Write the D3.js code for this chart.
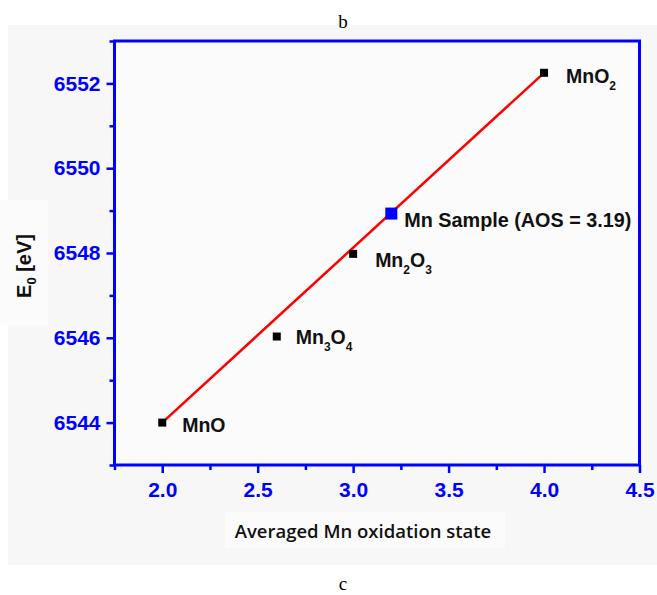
<!DOCTYPE html>
<html>
<head>
<meta charset="utf-8">
<script src="https://cdn.jsdelivr.net/npm/d3@7"></script>
<style>
  body { margin: 0; background: #ffffff; }
  text { font-family: "Liberation Sans", Arial, sans-serif; }
</style>
</head>
<body>
<script>
'use strict';

// reference compounds: averaged oxidation state vs edge energy
const compounds = ["MnO", "Mn3O4", "Mn2O3", "MnO2"];
const oxidationStates = [2.0, 2.6, 3.0, 4.0];
const edgeEnergies = [6544.0, 6546.03, 6547.98, 6552.25];

// the unknown sample
const sampleAOS = [3.2];
const sampleE0 = [6548.93];
const sampleLabel = "Mn Sample (AOS = 3.19)";

// linear fit through the references
const fitX = [2.0, 4.0];
const fitY = [6544.0, 6552.25];

const xTicks = [2.0, 2.5, 3.0, 3.5, 4.0, 4.5];
const xMinorTicks = [1.75, 2.25, 2.75, 3.25, 3.75, 4.25];
const yTicks = [6544, 6546, 6548, 6550, 6552];
const yMinorTicks = [6543, 6545, 6547, 6549, 6551, 6553];

// label offsets from each point (px)
const labelOffsets = [[20, 9], [19, 7], [22, 13], [22, 10]];

const width = 657, height = 595;
const blue = "#0000ff";

const svg = d3.select("body").append("svg")
  .attr("width", width)
  .attr("height", height);

// light grey backdrop of the scanned figure
svg.append("rect")
  .attr("x", 8).attr("y", 25)
  .attr("width", width - 8).attr("height", 540)
  .attr("fill", "#f7f7f7");

// faint boxes behind axis titles
svg.append("rect").attr("x", 0).attr("y", 200).attr("width", 48).attr("height", 125).attr("fill", "#fbfbfb");
svg.append("rect").attr("x", 225).attr("y", 512).attr("width", 280).attr("height", 36).attr("fill", "#fbfbfb");

const x = d3.scaleLinear().domain([1.75, 4.5]).range([114.5, 639.5]);
const y = d3.scaleLinear().domain([6543, 6553]).range([465, 41]);

// plot area
svg.append("rect")
  .attr("x", x(1.75)).attr("y", y(6553))
  .attr("width", x(4.5) - x(1.75)).attr("height", y(6543) - y(6553))
  .attr("fill", "#fbfbfb");

function styleAxis(g, size) {
  g.select(".domain").remove();
  g.selectAll("line").attr("stroke", blue).attr("stroke-width", 2.5);
  g.selectAll("text")
    .attr("fill", blue)
    .style("font-size", size)
    .style("font-weight", "bold");
}

svg.append("g")
  .attr("transform", `translate(0,${y(6543)})`)
  .call(d3.axisBottom(x).tickValues(xMinorTicks).tickSize(5).tickFormat(""))
  .call(g => styleAxis(g, "21px"));

svg.append("g")
  .attr("transform", `translate(0,${y(6543)})`)
  .call(d3.axisBottom(x).tickValues(xTicks).tickSize(8).tickPadding(9).tickFormat(d3.format(".1f")))
  .call(g => styleAxis(g, "21px"));

svg.append("g")
  .attr("transform", `translate(${x(1.75)},0)`)
  .call(d3.axisLeft(y).tickValues(yMinorTicks).tickSize(5).tickFormat(""))
  .call(g => styleAxis(g, "21px"));

svg.append("g")
  .attr("transform", `translate(${x(1.75)},0)`)
  .call(d3.axisLeft(y).tickValues(yTicks).tickSize(8).tickPadding(6).tickFormat(d3.format("d")))
  .call(g => styleAxis(g, "21px"));

// frame
svg.append("rect")
  .attr("x", x(1.75)).attr("y", y(6553))
  .attr("width", x(4.5) - x(1.75)).attr("height", y(6543) - y(6553))
  .attr("fill", "none")
  .attr("stroke", blue)
  .attr("stroke-width", 3);

// fit line
svg.append("path")
  .datum(fitX.map((d, i) => [d, fitY[i]]))
  .attr("fill", "none")
  .attr("stroke", "#ff0000")
  .attr("stroke-width", 2.5)
  .attr("d", d3.line().x(d => x(d[0])).y(d => y(d[1])));

// reference points
svg.selectAll(".ref")
  .data(oxidationStates)
  .enter()
  .append("rect")
  .attr("class", "ref")
  .attr("x", d => x(d) - 4)
  .attr("y", (d, i) => y(edgeEnergies[i]) - 4)
  .attr("width", 8)
  .attr("height", 8)
  .attr("fill", "#000000");

// sample point
svg.selectAll(".sample")
  .data(sampleAOS)
  .enter()
  .append("rect")
  .attr("class", "sample")
  .attr("x", d => x(d) - 6)
  .attr("y", (d, i) => y(sampleE0[i]) - 6)
  .attr("width", 12)
  .attr("height", 12)
  .attr("fill", blue);

// compound labels with subscripted digits
compounds.forEach(function(name, i) {
  let t = svg.append("text")
    .attr("x", x(oxidationStates[i]) + labelOffsets[i][0])
    .attr("y", y(edgeEnergies[i]) + labelOffsets[i][1])
    .style("font-size", "19.5px")
    .style("font-weight", "bold")
    .attr("fill", "#111");
  let lowered = false;
  name.match(/[A-Za-z]+|\d+/g).forEach(function(part) {
    if (/\d/.test(part)) {
      t.append("tspan").attr("dy", 7).style("font-size", "12px").text(part);
      lowered = true;
    } else {
      t.append("tspan").attr("dy", lowered ? -7 : 0).text(part);
      lowered = false;
    }
  });
});

svg.append("text")
  .attr("x", x(sampleAOS[0]) + 13)
  .attr("y", y(sampleE0[0]) + 13)
  .style("font-size", "19.8px")
  .style("font-weight", "bold")
  .attr("fill", "#111")
  .text(sampleLabel);

// axis titles
let yLabel = svg.append("text")
  .attr("transform", "translate(31,266)rotate(-90)")
  .attr("text-anchor", "middle")
  .style("font-size", "20px")
  .style("font-weight", "bold")
  .attr("fill", "#111");
yLabel.append("tspan").text("E");
yLabel.append("tspan").attr("dy", 5).style("font-size", "13px").text("0");
yLabel.append("tspan").attr("dy", -5).text(" [eV]");

svg.append("text")
  .attr("x", 363)
  .attr("y", 538)
  .attr("text-anchor", "middle")
  .style("font-family", "'Open Sans', sans-serif")
  .style("font-size", "18.5px")
  .style("font-weight", "600")
  .attr("fill", "#111")
  .text("Averaged Mn oxidation state");

// panel letters
svg.append("text")
  .attr("x", 343).attr("y", 28)
  .attr("text-anchor", "middle")
  .style("font-family", "'Liberation Serif', serif")
  .style("font-size", "19px")
  .text("b");

svg.append("text")
  .attr("x", 343).attr("y", 590)
  .attr("text-anchor", "middle")
  .style("font-family", "'Liberation Serif', serif")
  .style("font-size", "19px")
  .text("c");
</script>
</body>
</html>
